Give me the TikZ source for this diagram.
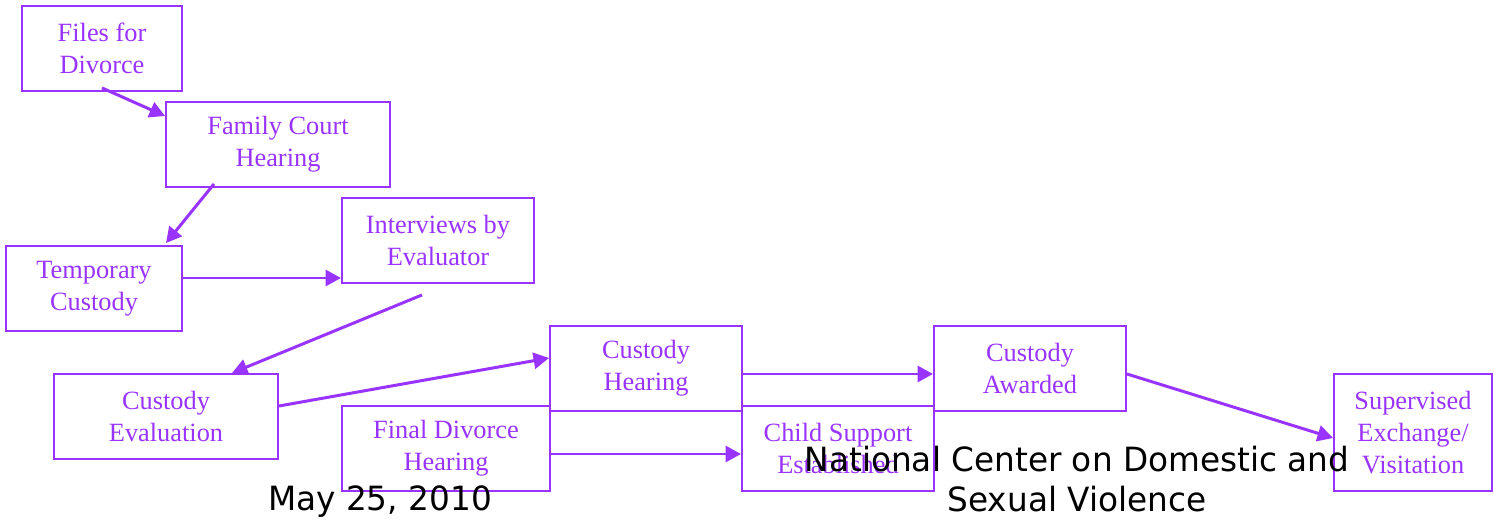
\documentclass[tikz,border=0pt]{standalone}
\usepackage{fontspec}
\setmainfont{Liberation Serif}
\newfontfamily\footfont[FakeStretch=0.98]{DejaVu Sans}
\usetikzlibrary{arrows.meta}
\definecolor{purp}{RGB}{153,51,255}
\begin{document}
\begin{tikzpicture}[x=0.02cm,y=-0.02cm,
  box/.style={draw=purp,line width=1.1pt,text=purp,align=center,inner sep=0pt,
    font=\fontsize{15pt}{18.2pt}\selectfont},
  arr/.style={draw=purp,line width=1.7pt,-{Triangle[length=0.31cm,width=0.32cm]}},
  foot/.style={font=\footfont\fontsize{19pt}{23.2pt}\selectfont,align=center,inner sep=0pt}]
\useasboundingbox (0,0) rectangle (1494,523);
\node[box,minimum width=3.2cm,minimum height=1.7cm] (files) at (102,48.5) {Files for\\Divorce};
\node[box,minimum width=4.48cm,minimum height=1.7cm] (family) at (278,144.5) {Family Court\\Hearing};
\node[box,minimum width=3.52cm,minimum height=1.7cm] (temp) at (94,288.5) {Temporary\\Custody};
\node[box,minimum width=3.84cm,minimum height=1.7cm] (intv) at (438,240.5) {Interviews by\\Evaluator};
\node[box,minimum width=4.48cm,minimum height=1.7cm] (ceval) at (166,416.5) {Custody\\Evaluation};
\node[box,minimum width=4.16cm,minimum height=1.7cm] (final) at (446,448.5) {Final Divorce\\Hearing};
\node[box,minimum width=3.84cm,minimum height=1.7cm] (chear) at (646,368.5) {Custody\\Hearing};
\node[box,minimum width=3.84cm,minimum height=1.7cm] (child) at (838,448.5) {Child Support\\Established};
\node[box,minimum width=3.84cm,minimum height=1.7cm] (award) at (1030,368.5) {Custody\\Awarded};
\node[box,minimum width=3.16cm,minimum height=2.34cm] (superv) at (1413,432.5) {Supervised\\Exchange/\\Visitation};
\draw[arr] ([yshift=0.08cm]files.south) -- ([yshift=-0.3cm]family.north west);
\draw[arr] ([xshift=-1.28cm,yshift=0.08cm]family.south) -- ([xshift=1.44cm,yshift=0.04cm]temp.north);
\draw[arr] ([yshift=0.21cm]temp.east) coordinate (t1) -- (t1 -| intv.west);
\draw[arr] ([xshift=-0.32cm,yshift=-0.22cm]intv.south) -- ([xshift=1.32cm]ceval.north);
\draw[arr] ([yshift=0.21cm]ceval.east) -- ([yshift=0.21cm]chear.west);
\draw[arr] ([yshift=-0.11cm]chear.east) -- ([yshift=-0.11cm]award.west);
\draw[arr] ([yshift=-0.11cm]final.east) -- ([yshift=-0.11cm]child.west);
\draw[arr] ([yshift=-0.11cm]award.east) -- ([yshift=-0.11cm]superv.west);
\node[foot] (date) at (380,502) {May 25, 2010};
\node[foot] (org) at (1077,479) {National Center on Domestic and\\Sexual Violence};
\end{tikzpicture}
\end{document}
